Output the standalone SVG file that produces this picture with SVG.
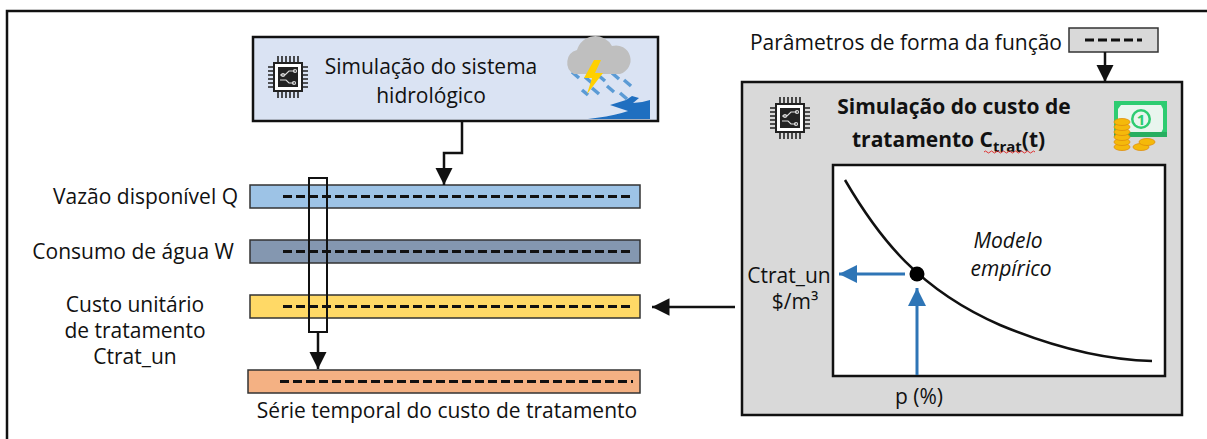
<svg xmlns="http://www.w3.org/2000/svg" width="1207" height="439" viewBox="0 0 1207 439">
  <defs>
    <style>
      .t { font-family: "Open Sans", "Noto Sans", sans-serif; fill: #111; font-size: 21px; }
      .box { stroke: #111; stroke-width: 2.5; }
      .dash { stroke: #111; stroke-width: 3; stroke-dasharray: 9 4; fill: none; }
      .wire { stroke: #111; stroke-width: 2.5; fill: none; }
      .blue { stroke: #2e75b6; stroke-width: 3; fill: none; }
    </style>
    <marker id="ah" viewBox="0 0 10 10" refX="10" refY="5" markerWidth="7" markerHeight="7" orient="auto" markerUnits="strokeWidth">
      <path d="M0,0 L10,5 L0,10 z" fill="#111"/>
    </marker>
    <marker id="ahb" viewBox="0 0 10 10" refX="10" refY="5" markerWidth="6" markerHeight="6" orient="auto" markerUnits="strokeWidth">
      <path d="M0,0 L10,5 L0,10 z" fill="#2e75b6"/>
    </marker>
    <!-- processor chip glyph -->
    <g id="chip">
      <rect x="-14" y="-14" width="28" height="28" fill="#fff" stroke="#222" stroke-width="2"/>
      <rect x="-10" y="-10" width="20" height="20" fill="#222"/>
      <g stroke="#222" stroke-width="1.6">
        <path d="M-10,-15v-6 M-6,-15v-6 M-2,-15v-6 M2,-15v-6 M6,-15v-6 M10,-15v-6"/>
        <path d="M-10,15v6 M-6,15v6 M-2,15v6 M2,15v6 M6,15v6 M10,15v6"/>
        <path d="M-15,-10h-5 M-15,-6h-5 M-15,-2h-5 M-15,2h-5 M-15,6h-5 M-15,10h-5"/>
        <path d="M15,-10h5 M15,-6h5 M15,-2h5 M15,2h5 M15,6h5 M15,10h5"/>
      </g>
      <g stroke="#ddd" stroke-width="1.2" fill="none">
        <path d="M-8,-2 h5 l4,-4 h6"/>
        <path d="M-8,3 h6 l3,3 h5"/>
        <circle cx="-5" cy="-2" r="1.5"/>
        <circle cx="7" cy="-6" r="1.5"/>
        <circle cx="6" cy="6" r="1.5"/>
      </g>
    </g>
  </defs>

  <!-- outer frame -->
  <rect x="7" y="11" width="1210" height="440" fill="#fff" stroke="#111" stroke-width="2.5"/>

  <!-- hydrological simulation -->
  <g id="hydro">
    <rect x="253" y="37" width="405" height="84" fill="#dae3f3" class="box"/>
    <use href="#chip" x="288" y="77"/>
    <text class="t" x="431" y="74" font-size="23.5" text-anchor="middle">Simulação do sistema</text>
    <text class="t" x="431" y="103" font-size="23.5" text-anchor="middle">hidrológico</text>
    <!-- storm over river -->
    <g>
      <g stroke="#5b9bd5" stroke-width="3.5" stroke-linecap="butt">
        <path d="M572,72 l7,6 M585,77 l7,6 M598,75 l7,6 M612,73 l7,6 M624,80 l7,6 M592,88 l7,6 M607,86 l7,6 M620,93 l7,6 M582,90 l6,5"/>
      </g>
      <path d="M574,74 a13,13 0 0 1 3,-24 a19,19 0 0 1 35,-4 a13,13 0 0 1 8,28 z" fill="#bfbfbf"/>
      <path d="M594,60 l-10,18 h8 l-5,16 l16,-21 h-8 l6,-13 z" fill="#ffd000"/>
      <path d="M610,105 l16,-5 l6,-4 l7,2 l-6,5 q8,0 17,-3 v9 q-6,2 -22,2 z" fill="#1f6fc0"/>
      <path d="M588,119 q38,-4 62,-17 v17 z" fill="#1f6fc0"/>
    </g>
  </g>

  <!-- time series bars -->
  <g id="serie-q">
    <text class="t" x="238" y="204" text-anchor="end">Vazão disponível Q</text>
    <rect x="250" y="185" width="390" height="23" fill="#9dc3e6" stroke="#333" stroke-width="1.5"/>
    <line x1="283" y1="196.5" x2="633" y2="196.5" class="dash"/>
  </g>
  <g id="serie-w">
    <text class="t" x="234" y="259" text-anchor="end">Consumo de água W</text>
    <rect x="250" y="240" width="390" height="23" fill="#8497b0" stroke="#333" stroke-width="1.5"/>
    <line x1="283" y1="251.5" x2="633" y2="251.5" class="dash"/>
  </g>
  <g id="serie-c">
    <text class="t" x="135" y="312" text-anchor="middle">Custo unitário</text>
    <text class="t" x="135" y="338" text-anchor="middle">de tratamento</text>
    <text class="t" x="135" y="364" text-anchor="middle">Ctrat_un</text>
    <rect x="250" y="295" width="390" height="23" fill="#ffd966" stroke="#333" stroke-width="1.5"/>
    <line x1="283" y1="306.5" x2="633" y2="306.5" class="dash"/>
  </g>
  <g id="serie-custo">
    <rect x="248" y="370" width="392" height="23" fill="#f4b183" stroke="#333" stroke-width="1.5"/>
    <line x1="280" y1="381.5" x2="633" y2="381.5" class="dash"/>
    <text class="t" x="447" y="418" text-anchor="middle">Série temporal do custo de tratamento</text>
  </g>
  <!-- time-step window -->
  <g id="janela">
    <rect x="309" y="178" width="18" height="154" fill="none" stroke="#111" stroke-width="2"/>
  </g>

  <!-- function parameters -->
  <g id="parametros">
    <text class="t" x="1062" y="50" text-anchor="end">Parâmetros de forma da função</text>
    <rect x="1069" y="28" width="89" height="24" fill="#d9d9d9" stroke="#333" stroke-width="1.5"/>
    <line x1="1085" y1="40" x2="1142" y2="40" class="dash" stroke-dasharray="9 3"/>
  </g>

  <!-- treatment cost simulation -->
  <g id="custo">
    <rect x="742" y="82" width="440" height="333" fill="#d9d9d9" class="box" stroke-width="3"/>
    <use href="#chip" x="790" y="118"/>
    <text class="t" x="954" y="114" font-size="21.6" font-weight="bold" text-anchor="middle">Simulação do custo de</text>
    <text class="t" x="852" y="147" font-size="21.6" font-weight="bold">tratamento C<tspan font-size="15" dy="5">trat</tspan><tspan dy="-5">(t)</tspan></text>
    <path d="M984,152 q1.5,-2 3,0 t3,0 t3,0 t3,0 t3,0 t3,0 t3,0 t3,0 t3,0 t3,0 t3,0 t3,0 t3,0 t3,0 t3,0 t3,0 t3,0" fill="none" stroke="#e03030" stroke-width="1"/>
    <!-- banknote with coins -->
    <g>
      <rect x="1114" y="101" width="53" height="36" fill="#2ecc71"/>
      <path d="M1121,105 h40 l2,4 v20 l-2,4 h-40 l-3,-4 v-20 z" fill="#e9f5ee"/>
      <circle cx="1141" cy="119" r="10" fill="#2ecc71"/>
      <circle cx="1141" cy="119" r="7.5" fill="#e9f5ee"/>
      <text x="1141" y="125" font-family="Open Sans, sans-serif" font-size="15" font-weight="bold" fill="#2ecc71" text-anchor="middle">1</text>
      <rect x="1114" y="132" width="53" height="5" fill="#27ae60"/>
      <g fill="#f5b90a" stroke="#e08e0b" stroke-width="0.8">
        <ellipse cx="1122" cy="147" rx="8" ry="3.5"/>
        <ellipse cx="1122" cy="142" rx="8" ry="3.5"/>
        <ellipse cx="1122" cy="137" rx="8" ry="3.5"/>
        <ellipse cx="1122" cy="132" rx="8" ry="3.5"/>
        <ellipse cx="1122" cy="127" rx="8" ry="3.5"/>
        <ellipse cx="1122" cy="122" rx="8" ry="3.5"/>
        <ellipse cx="1141" cy="147" rx="8" ry="3.5"/>
        <ellipse cx="1147" cy="142" rx="8" ry="3.5"/>
      </g>
    </g>
    <!-- empirical cost curve -->
    <rect x="833" y="165" width="332" height="211" fill="#fff" stroke="#111" stroke-width="2.5"/>
    <path d="M845,180 C880,240 920,290 1000,325 C1060,350 1110,360 1152,361" fill="none" stroke="#111" stroke-width="2.5"/>
    <line x1="917" y1="375" x2="917" y2="288" class="blue" marker-end="url(#ahb)"/>
    <line x1="905" y1="274" x2="839" y2="274" class="blue" marker-end="url(#ahb)"/>
    <circle cx="917" cy="274" r="7.5" fill="#000"/>
    <text class="t" x="1008" y="248" font-size="20.5" font-style="italic" text-anchor="middle">Modelo</text>
    <text class="t" x="1011" y="276" font-size="20.5" font-style="italic" text-anchor="middle">empírico</text>
    <text class="t" x="789" y="283" text-anchor="middle">Ctrat_un</text>
    <text class="t" x="795" y="309" text-anchor="middle">$/m³</text>
    <text class="t" x="919" y="404" text-anchor="middle">p (%)</text>
  </g>

  <!-- connectors -->
  <g id="conectores">
    <path d="M462,121 V153 H444 V185" class="wire" marker-end="url(#ah)"/>
    <line x1="318" y1="332" x2="318" y2="369" class="wire" marker-end="url(#ah)"/>
    <line x1="1105" y1="52" x2="1105" y2="82" class="wire" marker-end="url(#ah)"/>
    <line x1="735" y1="307" x2="652" y2="307" class="wire" marker-end="url(#ah)"/>
  </g>
</svg>
